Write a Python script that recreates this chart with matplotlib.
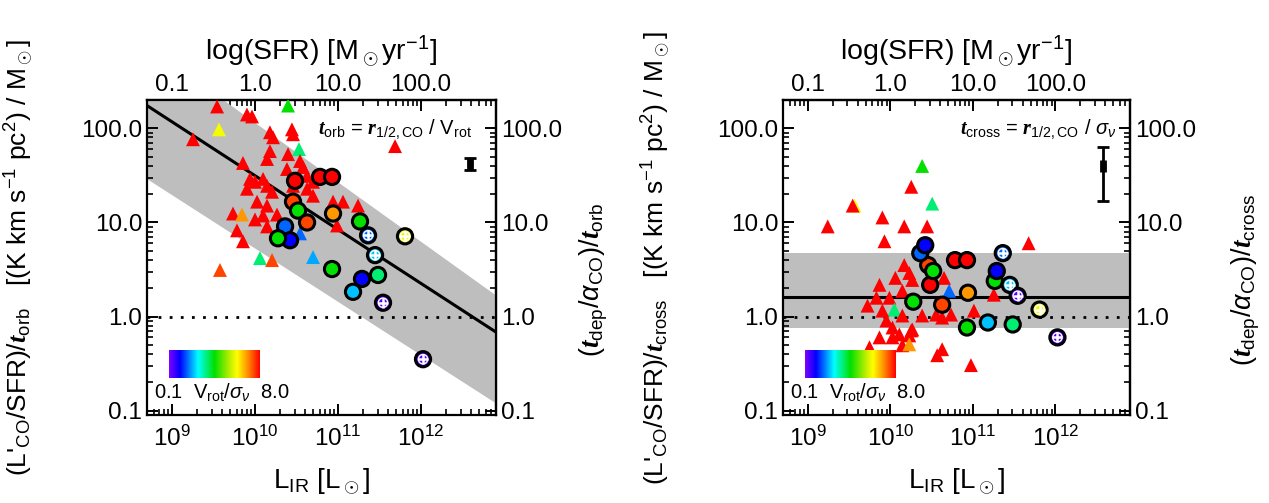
import numpy as np
import matplotlib.pyplot as plt
from matplotlib.colors import LinearSegmentedColormap, LogNorm
from matplotlib.ticker import FixedLocator, FixedFormatter, NullFormatter

plt.rcParams['font.family'] = ['Liberation Sans', 'DejaVu Sans']
plt.rcParams['mathtext.fontset'] = 'custom'
plt.rcParams['mathtext.rm'] = 'Liberation Sans'
plt.rcParams['mathtext.it'] = 'Liberation Sans:italic'
plt.rcParams['mathtext.bf'] = 'Liberation Serif:italic:bold'  # bold italic t, r

# ---------------- data ----------------
# triangles, left panel (log10 L_IR, log10 y, Vrot/sigma)
tri_l_logx = [9.543, 10.398, 9.903, 9.964, 9.566, 9.253, 10.180, 10.217, 10.445, 10.458,
              10.530, 10.180, 9.855, 10.145, 10.398, 10.542, 10.578, 10.385, 9.940, 10.000,
              10.097, 10.145, 9.903, 10.205, 10.025, 10.145, 9.735, 9.843, 10.000, 10.097,
              10.265, 9.783, 9.855, 10.458, 10.627, 10.699, 10.627, 10.699, 10.060, 10.205,
              9.578, 10.699, 10.988, 11.241, 10.940, 11.060, 11.687, 10.145, 10.542]
tri_l_logy = [2.232, 2.242, 2.147, 2.126, 1.989, 1.884, 1.958, 1.905, 1.989, 1.937,
              1.779, 1.758, 1.632, 1.674, 1.726, 1.653, 1.589, 1.568, 1.463, 1.432,
              1.463, 1.389, 1.358, 1.326, 1.221, 1.179, 1.095, 1.084, 1.032, 1.074,
              1.084, 0.916, 0.8, 1.389, 1.358, 1.284, 1.495, 1.432, 0.621, 0.6,
              0.495, 0.632, 0.968, 1.179, 1.221, 1.221, 1.811, 0.958, 0.884]
tri_l_vs = [8.0, 0.9, 8.0, 8.0, 2.5, 8.0, 8.0, 8.0, 8.0, 8.0,
            0.63, 8.0, 8.0, 8.0, 8.0, 8.0, 8.0, 8.0, 8.0, 8.0,
            8.0, 8.0, 8.0, 8.0, 8.0, 8.0, 8.0, 4.3, 8.0, 8.0,
            8.0, 8.0, 8.0, 8.0, 8.0, 8.0, 8.0, 8.0, 0.63, 6.0,
            6.0, 0.3, 8.0, 8.0, 8.0, 8.0, 8.0, 8.0, 0.24]

# triangles, right panel
tri_r_logx = [10.385, 10.253, 10.507, 9.566, 9.543, 9.903, 9.241, 10.168, 10.445, 9.928,
              11.675, 10.168, 10.229, 10.060, 9.868, 10.265, 10.650, 10.712, 10.145, 9.988,
              9.831, 9.723, 10.048, 9.903, 10.145, 10.385, 10.555, 10.735, 11.012, 10.627,
              9.952, 10.025, 10.108, 10.265, 10.229, 9.868, 10.025, 10.145, 10.229, 10.627,
              10.567, 10.976, 9.747, 11.253, 10.253]
tri_r_logy = [1.6, 1.379, 1.2, 1.179, 1.179, 1.053, 0.958, 0.958, 0.958, 0.8,
              0.779, 0.547, 0.463, 0.411, 0.337, 0.389, 0.411, 0.274, 0.274, 0.2,
              0.2, 0.116, 0.074, 0.063, 0.011, 0.011, 0.021, 0.021, 0.063, -0.011,
              -0.042, -0.116, -0.189, -0.137, -0.2, -0.221, -0.221, -0.305, -0.295, -0.347,
              -0.411, -0.516, -0.326, 0.232, -0.147]
tri_r_vs = [0.9, 8.0, 0.63, 2.5, 8.0, 8.0, 8.0, 8.0, 8.0, 8.0,
            8.0, 8.0, 8.0, 8.0, 8.0, 8.0, 8.0, 0.24, 8.0, 8.0,
            8.0, 8.0, 0.63, 8.0, 8.0, 8.0, 8.0, 8.0, 8.0, 8.0,
            8.0, 8.0, 8.0, 8.0, 8.0, 8.0, 8.0, 8.0, 4.3, 8.0,
            8.0, 8.0, 8.0, 8.0, 8.0]

# circles (resolved CO sample), same galaxies in both panels
circ_logx = [10.482, 10.783, 10.928, 10.458, 10.518, 10.627, 10.940, 11.265, 11.362, 11.807,
             11.446, 10.928, 11.289, 11.482, 11.181, 11.542, 12.024, 10.362, 10.422, 10.277]
circ_l_logy = [1.442, 1.484, 1.484, 1.221, 1.126, 1.0, 1.095, 1.011, 0.863, 0.853,
               0.653, 0.505, 0.4, 0.442, 0.263, 0.147, -0.453, 0.958, 0.811, 0.832]
circ_r_logy = [0.337, 0.6, 0.6, 0.547, 0.484, 0.126, 0.253, 0.379, 0.674, 0.074,
               0.337, -0.116, 0.484, -0.084, -0.063, 0.221, -0.221, 0.674, 0.758, 0.158]
circ_vs = [8.0, 8.0, 8.0, 6.0, 0.9, 6.0, 4.3, 0.9, 0.24, 2.4,
           0.33, 0.9, 0.17, 0.63, 0.33, 0.12, 0.12, 0.24, 0.17, 0.9]
circ_cross = [False, False, False, False, False, False, False, False, True, True,
              True, False, False, False, False, True, True, False, False, False]

# fits: log y = a + b * (log L_IR - 10), band edges likewise
fit_l = (1.497, -0.5725)
band_l_upper = (2.061, -0.632)
band_l_lower = (0.726, -0.567)
fit_r = 1.62
band_r = (0.75, 4.7)

# typical uncertainty (x, y, y_lo, y_hi)
err_l = (3.9e12, 42.0, 36.0, 48.0)
err_r = (3.8e12, 40.0, 17.0, 63.0)

xlim = (5e8, 8e12)
ylim = (0.09, 200)

cmap = LinearSegmentedColormap.from_list('rainbow_idl', [
    (0.0, '#8000ff'), (0.12, '#0000ff'), (0.32, '#00ffff'), (0.5, '#00e000'),
    (0.68, '#c8f000'), (0.75, '#ffff00'), (0.87, '#ff8c00'), (1.0, '#ff0000')])
norm = LogNorm(vmin=0.1, vmax=8.0)

fs = 17.5


def style_axis(ax):
    ax.tick_params(which='major', direction='in', length=8, width=1.4, labelsize=fs)
    ax.tick_params(which='minor', direction='in', length=4, width=1.2)
    for sp in ax.spines.values():
        sp.set_linewidth(1.6)


def draw_panel(ax, tri_x, tri_y, tri_c, circ_y, lab_t, ann, ann_x, err, rpad):
    ax.set_xscale('log')
    ax.set_yscale('log')
    ax.set_xlim(*xlim)
    ax.set_ylim(*ylim)

    xx = np.linspace(np.log10(xlim[0]), np.log10(xlim[1]), 50)
    if lab_t == 'orb':
        ax.fill_between(10**xx, 10**(band_l_lower[0] + band_l_lower[1] * (xx - 10)),
                        10**(band_l_upper[0] + band_l_upper[1] * (xx - 10)),
                        color='#bebebe', lw=0, zorder=1)
        ax.plot(10**xx, 10**(fit_l[0] + fit_l[1] * (xx - 10)), color='k', lw=2.2, zorder=2)
    else:
        ax.axhspan(band_r[0], band_r[1], color='#bebebe', lw=0, zorder=1)
        ax.axhline(fit_r, color='k', lw=2.2, zorder=2)
    ax.axhline(1.0, color='k', lw=2, ls=(0, (1, 3)), zorder=2)

    ax.scatter(10**np.array(tri_x), 10**np.array(tri_y), c=tri_c, cmap=cmap, norm=norm,
               marker='^', s=100, linewidths=0, zorder=3)
    cx = 10**np.array(circ_logx)
    cy = 10**np.array(circ_y)
    ax.scatter(cx, cy, c=circ_vs, cmap=cmap, norm=norm, marker='o', s=120,
               edgecolors='k', linewidths=2.2, zorder=4)
    m = np.array(circ_cross)
    ax.scatter(cx[m], cy[m], marker='o', facecolors='none', edgecolors='white',
               s=45, linewidths=1.0, zorder=5)
    ax.scatter(cx[m], cy[m], marker='+', color='white', s=55, linewidths=1.8, zorder=5)

    ax.errorbar([err[0]], [err[1]], yerr=[[err[1] - err[2]], [err[3] - err[1]]],
                xerr=[[err[0] * 0.05], [err[0] * 0.05]],
                fmt='s', color='k', ms=3.5, elinewidth=2, capsize=4, capthick=2, zorder=6)

    ax.text(ann_x, 0.905, ann, transform=ax.transAxes,
            ha='right', va='center', fontsize=14.5, zorder=7)

    # axis ticks
    ax.yaxis.set_major_locator(FixedLocator([0.1, 1, 10, 100]))
    ax.yaxis.set_major_formatter(FixedFormatter(['0.1', '1.0', '10.0', '100.0']))
    ax.yaxis.set_minor_formatter(NullFormatter())
    ax.xaxis.set_major_locator(FixedLocator([1e9, 1e10, 1e11, 1e12]))
    ax.xaxis.set_minor_formatter(NullFormatter())
    style_axis(ax)
    ax.tick_params(axis='x', pad=8)

    ax.set_xlabel(r'L$_{\rm IR}$ [L$_\odot$]', fontsize=20, labelpad=11)
    ax.set_ylabel(r"(L'$_{\rm CO}$/SFR)/$\mathbf{t}_{\rm %s}$   [(K km s$^{-1}$ pc$^2$) / M$_\odot$]" % lab_t,
                  fontsize=19)
    ax.yaxis.set_label_coords(-0.318, 0.5)

    top = ax.secondary_xaxis('top', functions=(lambda x: x * 1e-10, lambda s: s * 1e10))
    top.set_xscale('log')
    top.xaxis.set_major_locator(FixedLocator([0.1, 1, 10, 100]))
    top.xaxis.set_major_formatter(FixedFormatter(['0.1', '1.0', '10.0', '100.0']))
    top.xaxis.set_minor_formatter(NullFormatter())
    style_axis(top)
    top.tick_params(pad=3)
    top.set_xlabel(r'log(SFR) [M$_\odot$yr$^{-1}$]', fontsize=20.5, labelpad=10)

    right = ax.secondary_yaxis('right', functions=(lambda y: y, lambda y: y))
    right.set_yscale('log')
    right.yaxis.set_major_locator(FixedLocator([0.1, 1, 10, 100]))
    right.yaxis.set_major_formatter(FixedFormatter(['0.1', '1.0', '10.0', '100.0']))
    right.yaxis.set_minor_formatter(NullFormatter())
    style_axis(right)
    right.set_ylabel(r'($\mathbf{t}_{\rm dep}$/$\alpha_{\rm CO}$)/$\mathbf{t}_{\rm %s}$' % lab_t,
                     fontsize=19.5, labelpad=rpad)
    right.yaxis.label.set_y(0.43)

    # colour key
    cax = ax.inset_axes([0.063, 0.117, 0.26, 0.089])
    cax.imshow(np.linspace(0, 1, 256)[None, :], cmap=cmap, aspect='auto')
    cax.set_axis_off()
    ax.text(0.215, 0.07, r'0.1  V$_{\rm rot}$/$\sigma_\nu$  8.0', transform=ax.transAxes,
            ha='center', va='center', fontsize=14.5)


fig = plt.figure(figsize=(12.69, 5.03), dpi=100)
ax1 = fig.add_axes([147 / 1269, 88 / 503, 349 / 1269, 315 / 503])
ax2 = fig.add_axes([783 / 1269, 88 / 503, 347 / 1269, 315 / 503])

draw_panel(ax1, tri_l_logx, tri_l_logy, tri_l_vs, circ_l_logy, 'orb',
           r'$\mathbf{t}_{\rm orb}$ = $\mathbf{r}_{\rm 1/2,CO}$ / V$_{\rm rot}$', 0.93, err_l, 11)
draw_panel(ax2, tri_r_logx, tri_r_logy, tri_r_vs, circ_r_logy, 'cross',
           r'$\mathbf{t}_{\rm cross}$ = $\mathbf{r}_{\rm 1/2,CO}$ / $\sigma_\nu$', 0.96, err_r, 24)

fig.savefig('out.png', dpi=100)
